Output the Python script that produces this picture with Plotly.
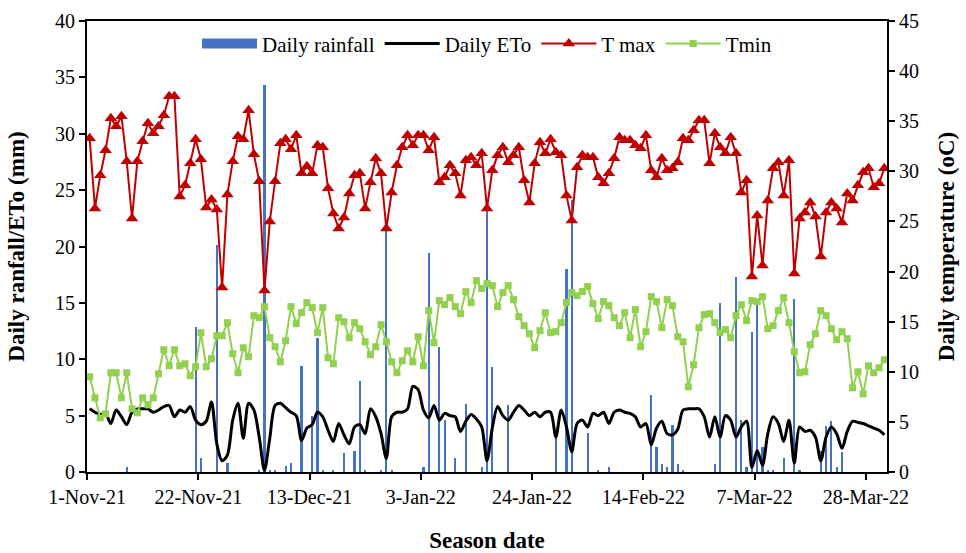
import pandas as pd
import plotly.graph_objects as go

# Daily weather records, 1 Nov 2021 - 31 Mar 2022
start_date = "2021-11-01 12:00"
n_days = 151

rain_days = [7, 20, 21, 24, 26, 32, 33, 34, 35, 37, 38, 40, 42, 43, 44, 46, 48, 50, 51, 52,
             55, 56, 57, 63, 64, 66, 67, 69, 71, 74, 75, 76, 79, 88, 90, 91, 94, 96, 98,
             106, 107, 108, 109, 110, 111, 112, 118, 119, 122, 123, 124, 125, 126, 127,
             128, 129, 131, 133, 134, 138, 139, 140, 141, 142]
rain_mm = [0.4, 12.9, 1.2, 20.1, 0.8, 0.15, 34.3, 0.2, 0.2, 0.5, 0.8, 9.4, 5.0, 11.9, 0.15,
           0.15, 1.7, 1.9, 8.1, 0.15, 0.15, 21.9, 0.15, 0.45, 19.4, 11.1, 4.6, 1.2, 6.0, 0.4,
           23.5, 9.3, 5.9, 3.0, 18.0, 24.1, 3.5, 0.15, 0.4, 6.8, 2.2, 0.7, 0.4, 4.2, 0.7,
           0.15, 0.7, 15.0, 17.3, 4.6, 0.4, 12.4, 15.0, 2.2, 0.15, 0.15, 1.2, 15.3, 0.15,
           1.9, 4.1, 4.5, 0.4, 1.8]

eto_mm = [5.6, 5.3, 5.1, 5.2, 4.3, 5.5, 4.9, 4.2, 5.3, 5.6, 5.6, 5.6, 5.3, 5.5, 5.8, 5.9,
          4.9, 5.5, 5.3, 5.8, 4.6, 4.2, 4.5, 6.2, 2.5, 1.0, 1.5, 4.6, 6.1, 3.0, 6.1, 5.5,
          3.1, 0.15, 3.0, 5.9, 6.1, 5.7, 5.3, 5.0, 2.8, 3.9, 4.2, 5.3, 4.9, 3.7, 2.7, 4.3,
          3.3, 2.5, 4.0, 4.2, 3.4, 5.6, 4.9, 3.4, 1.2, 4.9, 5.3, 5.3, 5.6, 7.6, 7.3, 5.5,
          4.8, 5.9, 4.6, 5.2, 5.0, 4.9, 3.6, 4.5, 5.1, 4.7, 4.0, 1.0, 3.9, 5.8, 5.0, 4.6,
          5.3, 5.9, 5.5, 5.0, 5.3, 4.9, 5.3, 5.3, 3.1, 5.5, 4.0, 1.8, 4.3, 4.6, 4.0, 5.2,
          5.0, 5.3, 4.3, 5.3, 5.5, 5.3, 5.2, 4.9, 4.0, 4.3, 2.4, 3.9, 4.5, 3.4, 3.3, 3.8,
          5.5, 5.6, 5.6, 5.6, 4.9, 3.1, 4.9, 3.1, 5.0, 4.6, 3.1, 4.0, 4.5, 0.4, 1.9, 0.6,
          3.4, 4.9, 4.3, 2.7, 4.6, 0.8, 4.0, 3.6, 3.7, 3.1, 1.0, 3.1, 4.0, 3.4, 2.1, 3.6,
          4.5, 4.4, 4.3, 4.1, 3.9, 3.7, 3.3]

tmax_c = [33.3, 26.3, 29.6, 32.1, 35.3, 34.5, 35.5, 31.0, 25.3, 31.0, 33.0, 34.8, 33.8,
          34.5, 35.6, 37.5, 37.5, 27.5, 28.6, 30.8, 33.2, 31.2, 26.4, 27.2, 26.2, 18.4,
          27.7, 31.0, 33.5, 33.2, 36.1, 31.7, 29.0, 18.1, 25.0, 29.0, 32.8, 33.2, 32.2,
          33.6, 29.8, 30.5, 29.8, 32.6, 32.4, 28.3, 25.8, 24.3, 25.4, 27.8, 29.6, 29.8,
          26.3, 28.9, 31.3, 29.8, 24.3, 27.9, 30.6, 32.4, 33.6, 32.6, 33.6, 33.6, 32.1,
          33.4, 28.9, 29.4, 30.6, 29.8, 27.6, 31.1, 31.4, 30.6, 31.8, 26.3, 30.1, 31.6,
          32.4, 30.9, 31.6, 32.4, 29.1, 26.9, 30.8, 32.9, 31.8, 33.2, 31.9, 31.6, 27.6,
          25.1, 30.4, 31.6, 31.4, 31.4, 29.4, 28.8, 29.8, 31.3, 33.4, 33.1, 33.1, 32.6,
          32.3, 33.6, 30.1, 29.4, 31.3, 30.1, 30.3, 30.9, 33.3, 33.1, 34.1, 35.1, 35.1,
          30.8, 33.8, 32.4, 31.8, 33.4, 31.8, 27.9, 29.1, 19.5, 25.6, 20.6, 27.1, 30.3,
          30.9, 27.6, 31.1, 19.8, 25.3, 25.9, 26.9, 25.5, 21.5, 25.9, 26.9, 26.3, 24.9,
          27.8, 27.1, 28.6, 29.9, 30.3, 28.4, 28.8, 30.3]

tmin_c = [9.5, 7.4, 5.4, 5.8, 9.9, 9.9, 7.4, 9.9, 6.3, 5.9, 7.4, 6.7, 7.4, 9.8, 12.2, 10.6,
          12.2, 10.6, 10.8, 9.6, 10.5, 13.9, 10.5, 11.3, 13.6, 13.6, 14.9, 11.8, 9.9, 12.4,
          11.5, 15.6, 15.4, 16.5, 13.4, 12.5, 11.0, 13.1, 16.5, 14.8, 15.9, 16.9, 16.4,
          13.9, 16.4, 11.4, 10.8, 15.4, 15.0, 13.4, 14.9, 14.3, 13.0, 11.7, 12.5, 14.7,
          13.0, 11.0, 9.9, 11.1, 12.1, 11.0, 13.5, 10.6, 16.1, 12.9, 17.1, 16.7, 17.4,
          16.5, 15.8, 18.0, 16.9, 19.1, 18.3, 18.8, 18.6, 16.5, 17.9, 18.6, 17.2, 15.5,
          14.6, 13.8, 12.4, 14.1, 15.9, 13.9, 14.0, 14.9, 16.9, 17.9, 17.6, 18.0, 18.5,
          16.8, 15.3, 17.0, 16.6, 15.4, 14.6, 15.9, 13.4, 16.2, 12.5, 14.0, 17.5, 17.0,
          14.4, 17.2, 16.6, 13.5, 13.0, 8.5, 10.7, 14.4, 15.7, 15.8, 14.9, 13.9, 14.2,
          13.4, 15.6, 16.7, 15.1, 17.1, 17.0, 17.5, 14.3, 14.6, 16.1, 17.4, 14.9, 12.0,
          9.9, 10.0, 12.7, 13.8, 16.1, 15.6, 14.3, 13.2, 14.0, 13.3, 8.4, 10.0, 7.8, 10.6,
          9.9, 10.4, 11.2]

tick_dates = ["2021-11-01", "2021-11-22", "2021-12-13", "2022-01-03",
              "2022-01-24", "2022-02-14", "2022-03-07", "2022-03-28"]

dates = pd.date_range(start_date, periods=n_days, freq="D")
rainfall = [0.0] * n_days
for d, v in zip(rain_days, rain_mm):
    rainfall[d] = v

FONT = "Liberation Serif"
RAIN_BLUE = "#4472C4"
day_ms = 86400000

fig = go.Figure()
fig.add_trace(go.Bar(
    x=dates, y=rainfall, name="Daily rainfall", showlegend=False,
    legendgroup="rain",
    marker=dict(color=RAIN_BLUE, line=dict(width=0)),
    width=0.42 * day_ms, yaxis="y",
))
# wide flat swatch for the rainfall legend entry
fig.add_trace(go.Scatter(
    x=[None], y=[None], name="Daily rainfall", mode="lines",
    legendgroup="rain",
    line=dict(color=RAIN_BLUE, width=10), yaxis="y",
))
fig.add_trace(go.Scatter(
    x=dates, y=eto_mm, name="Daily ETo", mode="lines",
    line=dict(color="black", width=3, shape="spline", smoothing=0.8),
    yaxis="y",
))
fig.add_trace(go.Scatter(
    x=dates, y=tmax_c, name="T max", mode="lines+markers",
    line=dict(color="#C00000", width=2),
    marker=dict(symbol="triangle-up", size=11, color="#C00000"),
    yaxis="y2",
))
fig.add_trace(go.Scatter(
    x=dates, y=tmin_c, name="Tmin", mode="lines+markers",
    line=dict(color="#92D050", width=2),
    marker=dict(symbol="square", size=7, color="#92D050"),
    yaxis="y2",
))

axis_font = dict(family=FONT, size=20, color="black")
title_font = dict(family=FONT, size=23, color="black")

fig.update_layout(
    width=966, height=553,
    margin=dict(l=87, r=79, t=21, b=81),
    paper_bgcolor="white", plot_bgcolor="white",
    font=dict(family=FONT, size=20, color="black"),
    bargap=0,
    showlegend=True,
    legend=dict(
        orientation="h", x=0.5, xanchor="center", y=0.995, yanchor="top",
        font=dict(family=FONT, size=21, color="black"),
        bgcolor="rgba(0,0,0,0)", itemwidth=55, tracegroupgap=0,
    ),
    xaxis=dict(
        type="date", automargin=False,
        range=["2021-11-01", "2022-04-01"],
        tickvals=tick_dates, tickformat="%-d-%b-%y",
        ticks="outside", ticklen=6, tickwidth=1.5, tickcolor="black",
        showline=True, linecolor="black", linewidth=2, mirror=True,
        showgrid=False, zeroline=False,
        tickfont=axis_font,
        title=dict(text="<b>Season date</b>", font=title_font, standoff=30),
    ),
    yaxis=dict(
        range=[0, 40], dtick=5, automargin=False,
        ticks="outside", ticklen=6, tickwidth=1.5, tickcolor="black",
        showline=True, linecolor="black", linewidth=2,
        showgrid=False, zeroline=False,
        tickfont=axis_font,
        title=dict(text="<b>Daily ranfall/ETo (mm)</b>", font=title_font, standoff=24),
    ),
    yaxis2=dict(
        range=[0, 45], dtick=5, overlaying="y", side="right", automargin=False,
        ticks="outside", ticklen=6, tickwidth=1.5, tickcolor="black",
        showline=True, linecolor="black", linewidth=2,
        showgrid=False, zeroline=False,
        tickfont=axis_font,
        title=dict(text="<b>Daily temperature (oC)</b>", font=title_font, standoff=20),
    ),
)

fig.write_html("out.html")
